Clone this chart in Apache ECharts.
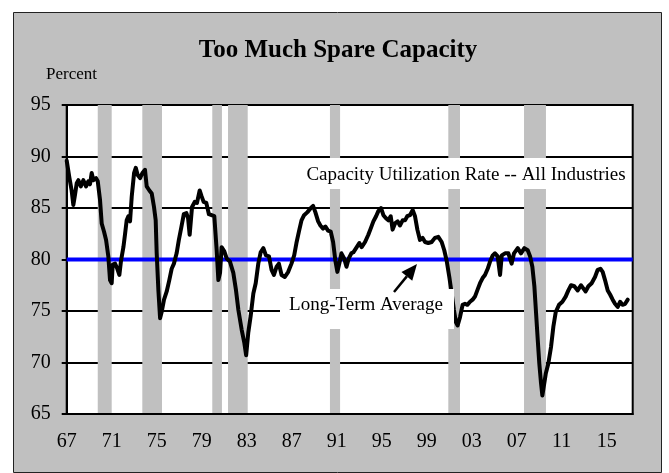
<!DOCTYPE html>
<html>
<head>
<meta charset="utf-8">
<title>Too Much Spare Capacity</title>
<script src="https://cdn.jsdelivr.net/npm/echarts@6/dist/echarts.min.js"></script>
<style>
  html, body { margin: 0; padding: 0; background: #fff; }
  #chart { width: 669px; height: 473px; }
</style>
</head>
<body>
<div id="chart"></div>
<script>
// x is years since Jan 1967, so the axis can start at 0 and step by 4
const startYear = 1967
const years = [
  0.0, 0.23, 0.44, 0.59, 0.74, 0.89, 1.04, 1.25, 1.48, 1.72, 1.92, 2.07, 2.22, 2.37, 2.61, 2.76,
  2.96, 3.11, 3.32, 3.5, 3.7, 3.85, 4.0, 4.09, 4.3, 4.5, 4.68, 4.83, 5.04, 5.19, 5.33, 5.48,
  5.63, 5.78, 5.99, 6.14, 6.31, 6.52, 6.73, 6.96, 7.11, 7.35, 7.56, 7.76, 7.91, 8.0, 8.15, 8.3,
  8.44, 8.65, 8.89, 9.12, 9.33, 9.53, 9.77, 9.97, 10.2, 10.41, 10.64, 10.79, 10.93, 11.14, 11.38, 11.58,
  11.82, 11.97, 12.17, 12.41, 12.64, 12.88, 13.12, 13.33, 13.48, 13.63, 13.77, 14.01, 14.22, 14.51, 14.81, 15.05,
  15.26, 15.55, 15.79, 15.95, 16.14, 16.35, 16.59, 16.8, 17.03, 17.24, 17.48, 17.71, 17.98, 18.21, 18.42, 18.66,
  18.86, 19.1, 19.39, 19.69, 19.98, 20.22, 20.42, 20.66, 20.87, 21.1, 21.4, 21.7, 21.9, 22.1, 22.35, 22.55,
  22.79, 23.0, 23.23, 23.47, 23.68, 23.88, 24.06, 24.27, 24.42, 24.66, 24.87, 25.07, 25.3, 25.48, 25.78, 26.01,
  26.22, 26.52, 26.81, 27.02, 27.26, 27.5, 27.7, 27.94, 28.15, 28.38, 28.59, 28.8, 28.97, 29.18, 29.42, 29.62,
  29.86, 30.07, 30.27, 30.51, 30.75, 30.96, 31.17, 31.4, 31.64, 31.85, 32.14, 32.44, 32.73, 33.03, 33.33, 33.56,
  33.77, 34.01, 34.22, 34.42, 34.6, 34.75, 34.96, 35.19, 35.4, 35.61, 35.85, 36.08, 36.29, 36.53, 36.74, 36.97,
  37.18, 37.42, 37.63, 37.87, 38.07, 38.31, 38.52, 38.67, 38.96, 39.26, 39.55, 39.76, 40.09, 40.38, 40.68, 40.98,
  41.19, 41.39, 41.57, 41.72, 41.87, 42.01, 42.16, 42.28, 42.43, 42.58, 42.81, 43.05, 43.26, 43.47, 43.76, 44.06,
  44.35, 44.59, 44.83, 45.12, 45.42, 45.71, 45.92, 46.13, 46.37, 46.66, 46.96, 47.2, 47.44, 47.64, 47.85, 48.09,
  48.3, 48.53, 48.74, 48.98, 49.19, 49.4, 49.64, 49.87
]
const utilization = [
  89.6, 88.0, 86.7, 85.3, 86.3, 87.4, 87.7, 87.1, 87.7, 87.1, 87.6, 87.3, 88.4, 87.7, 87.9, 87.6,
  85.8, 83.5, 82.7, 81.9, 80.3, 78.0, 77.7, 79.5, 79.6, 79.1, 78.5, 79.9, 81.2, 82.5, 83.8, 84.2,
  83.7, 86.1, 88.4, 88.9, 88.2, 87.9, 88.4, 88.7, 87.1, 86.7, 86.4, 85.1, 83.8, 80.6, 77.0, 74.3,
  74.9, 76.1, 76.9, 78.0, 79.1, 79.6, 80.6, 81.9, 83.2, 84.4, 84.5, 84.0, 82.4, 85.1, 85.6, 85.5,
  86.7, 86.2, 85.6, 85.5, 84.4, 84.3, 84.2, 80.9, 78.0, 78.7, 81.2, 80.8, 80.1, 79.8, 78.7, 77.0,
  75.1, 73.2, 71.9, 70.7, 72.9, 74.5, 76.7, 77.7, 79.6, 80.7, 81.1, 80.4, 80.3, 79.0, 78.5, 79.3,
  79.6, 78.5, 78.3, 78.8, 79.6, 80.4, 81.6, 82.8, 83.8, 84.3, 84.6, 85.0, 85.2, 84.6, 83.7, 83.3,
  83.0, 83.2, 82.8, 82.7, 81.7, 79.9, 78.8, 79.8, 80.6, 80.1, 79.3, 80.1, 80.6, 80.7, 81.2, 81.6,
  81.2, 81.7, 82.4, 83.0, 83.7, 84.2, 84.7, 85.0, 84.3, 84.0, 83.8, 84.2, 82.9, 83.5, 83.7, 83.3,
  83.8, 83.8, 84.2, 84.3, 84.8, 84.2, 82.9, 81.9, 82.1, 81.7, 81.6, 81.7, 82.1, 82.2, 81.7, 80.9,
  79.9, 78.3, 76.7, 75.1, 73.9, 73.6, 74.4, 75.6, 75.7, 75.6, 75.9, 76.1, 76.4, 77.1, 77.7, 78.2,
  78.5, 79.1, 79.8, 80.4, 80.6, 80.3, 78.5, 80.4, 80.6, 80.6, 79.6, 80.6, 81.1, 80.6, 81.1, 80.9,
  80.3, 79.3, 77.4, 74.8, 72.2, 69.9, 68.0, 66.8, 66.8, 68.9, 69.9, 71.5, 73.5, 74.9, 75.6, 75.9,
  76.4, 77.0, 77.5, 77.4, 77.0, 77.5, 77.2, 76.9, 77.4, 77.7, 78.3, 79.0, 79.1, 78.8, 78.0, 77.0,
  76.6, 76.1, 75.7, 75.4, 75.9, 75.6, 75.7, 76.1
]
const longTermAverage = 80
// recession shading, start/end in years since 1967
const recessions = [
  [2.76, 4.0], [6.72, 8.47], [12.94, 13.8], [14.34, 16.09],
  [23.4, 24.3], [33.92, 34.96], [40.65, 42.6]
]
const xMax = 50.31

const serif = 'Liberation Serif'
const chart = echarts.init(document.getElementById('chart'))

// arrow pointing at the average line
const tail = [394, 292]
const tip = [417, 264]
const dx = tip[0] - tail[0], dy = tip[1] - tail[1]
const len = Math.sqrt(dx * dx + dy * dy)
const ux = dx / len, uy = dy / len
const headLen = 16, headHalf = 7
const base = [tip[0] - ux * headLen, tip[1] - uy * headLen]

chart.setOption({
  animation: false,
  backgroundColor: 'transparent',
  title: {
    text: 'Too Much Spare Capacity',
    left: 338,
    top: 38,
    padding: 0,
    textAlign: 'center',
    textStyle: { fontFamily: serif, fontSize: 25, fontWeight: 'bold', color: '#000' }
  },
  grid: {
    left: 66.7,
    right: 36.3,
    top: 105,
    bottom: 59,
    show: true,
    backgroundColor: '#fff',
    borderColor: '#000',
    borderWidth: 2,
    outerBoundsMode: 'none'
  },
  xAxis: {
    type: 'value',
    min: 0,
    max: xMax,
    interval: 4,
    z: 5,
    axisLine: { lineStyle: { color: '#000', width: 2 } },
    axisTick: { show: false },
    splitLine: { show: false },
    axisLabel: {
      showMaxLabel: false,
      margin: 18,
      color: '#000',
      fontFamily: serif,
      fontSize: 20,
      formatter: v => String((startYear + v) % 100).padStart(2, '0')
    }
  },
  yAxis: {
    type: 'value',
    min: 65,
    max: 95,
    interval: 5,
    axisLine: { show: true, lineStyle: { color: '#000', width: 2 } },
    axisTick: { show: true, length: 5, lineStyle: { color: '#000', width: 2 } },
    splitLine: { lineStyle: { color: '#000', width: 2 } },
    axisLabel: { margin: 16, color: '#000', fontFamily: serif, fontSize: 20 }
  },
  graphic: [
    {
      type: 'rect', z: -10, silent: true,
      shape: { x: 13.5, y: 12.5, width: 648, height: 460 },
      style: { fill: '#c0c0c0', stroke: '#222', lineWidth: 1 }
    },
    {
      type: 'text', left: 46, top: 66, silent: true,
      style: { text: 'Percent', font: '17px "Liberation Serif"', fill: '#000' }
    },
    {
      type: 'rect', z: 10, silent: true,
      shape: { x: 298, y: 158, width: 332, height: 31 },
      style: { fill: '#fff' }
    },
    {
      type: 'text', z: 11, silent: true, x: 466, y: 175,
      style: { text: 'Capacity Utilization Rate -- All Industries', font: '19px "Liberation Serif"', fill: '#000', align: 'center', verticalAlign: 'middle' }
    },
    {
      type: 'rect', z: 10, silent: true,
      shape: { x: 280, y: 289, width: 174, height: 40 },
      style: { fill: '#fff' }
    },
    {
      type: 'text', z: 11, silent: true, x: 366, y: 305,
      style: { text: 'Long-Term Average', font: '19px "Liberation Serif"', fill: '#000', align: 'center', verticalAlign: 'middle' }
    },
    {
      type: 'line', z: 11, silent: true,
      shape: { x1: tail[0], y1: tail[1], x2: base[0], y2: base[1] },
      style: { stroke: '#000', lineWidth: 2.5 }
    },
    {
      type: 'polygon', z: 11, silent: true,
      shape: {
        points: [
          tip,
          [base[0] - uy * headHalf, base[1] + ux * headHalf],
          [base[0] + uy * headHalf, base[1] - ux * headHalf]
        ]
      },
      style: { fill: '#000' }
    }
  ],
  series: [
    {
      name: 'Recessions',
      type: 'line',
      z: 2,
      data: [],
      markArea: {
        silent: true,
        itemStyle: { color: '#c0c0c0', opacity: 1 },
        label: { show: false },
        data: recessions.map(r => [{ xAxis: r[0] }, { xAxis: r[1] }])
      }
    },
    {
      name: 'Long-Term Average',
      type: 'line',
      z: 3,
      silent: true,
      symbol: 'none',
      data: [[0, longTermAverage], [xMax, longTermAverage]],
      lineStyle: { color: '#0000ff', width: 4 }
    },
    {
      name: 'Capacity Utilization Rate',
      type: 'line',
      z: 4,
      silent: true,
      symbol: 'none',
      data: years.map((t, i) => [t, utilization[i]]),
      lineStyle: { color: '#000', width: 4, join: 'round', cap: 'round' }
    }
  ]
})
</script>
</body>
</html>
